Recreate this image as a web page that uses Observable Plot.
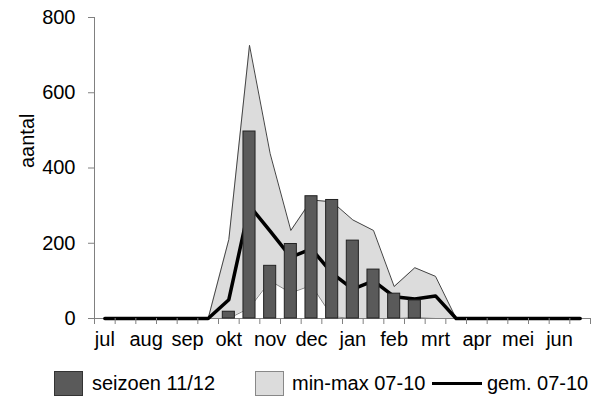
<!DOCTYPE html>
<html><head><meta charset="utf-8">
<script src="https://cdn.jsdelivr.net/npm/d3@7"></script>
<script src="https://cdn.jsdelivr.net/npm/@observablehq/plot@0.6"></script>
<style>
body{margin:0;background:#fff;font-family:"Liberation Sans",Arial,sans-serif;}
#chart{width:592px;height:400px;position:relative;overflow:hidden;}
#chart svg{display:block;}
.legend{position:absolute;left:0;top:360px;height:44px;width:592px;font-size:20px;color:#000;}
.legend .it{position:absolute;top:0;height:46px;display:flex;align-items:center;white-space:nowrap;}
.sw{width:29px;height:25px;box-sizing:border-box;}
</style></head><body><div id="chart"></div>
<script>
const periods = ["jul1","jul2","aug1","aug2","sep1","sep2","okt1","okt2","nov1","nov2","dec1","dec2",
                 "jan1","jan2","feb1","feb2","mrt1","mrt2","apr1","apr2","mei1","mei2","jun1","jun2"];
const monthLabels = ["jul","aug","sep","okt","nov","dec","jan","feb","mrt","apr","mei","jun"];
const season11_12 = [0,0,0,0,0,0,18,497,140,198,325,315,207,130,66,48,0,0,0,0,0,0,0,0];
const min07_10    = [0,0,0,0,0,0,0,28,100,68,88,5,0,0,0,3,0,0,0,0,0,0,0,0];
const max07_10    = [0,0,0,0,0,0,210,726,438,234,315,310,262,234,85,135,112,0,0,0,0,0,0,0];
const mean07_10   = [0,0,0,0,0,0,50,300,232,163,185,120,78,100,58,52,60,0,0,0,0,0,0,0];
const yTicks = [0,200,400,600,800];
const legendLabels = ["seizoen 11/12","min-max 07-10","gem. 07-10"];

const W=592, H=360, ML=94, MR=2, MT=17, MB=42;
const bw = (W-ML-MR)/periods.length;
const data = periods.map((p,i)=>({p, season: season11_12[i], min: min07_10[i], max: max07_10[i], mean: mean07_10[i]}));
const labelOf = new Map(periods.map((p,i)=>[p, i%2===0 ? monthLabels[i/2] : ""]));
const grey = "#808080";

const chart = Plot.plot({
  width: W, height: H, marginLeft: ML, marginRight: MR, marginTop: MT, marginBottom: MB,
  style: {fontFamily: "'Liberation Sans', Arial, sans-serif", fontSize: "20px", background: "white", color: "black"},
  x: {type: "band", domain: periods, padding: 0, round: false, axis: null},
  y: {domain: [0, 800], axis: null},
  marks: [
    Plot.areaY(data, {x: "p", y1: "min", y2: "max", fill: "#dcdcdc"}),
    Plot.lineY(data, {x: "p", y: "max", stroke: "#444", strokeWidth: 1}),
    Plot.lineY(data, {x: "p", y: "min", stroke: "#888", strokeWidth: 1}),
    Plot.ruleY([0], {stroke: grey}),
    Plot.ruleX([periods[0]], {dx: -bw/2, stroke: grey}),
    Plot.lineY(data, {x: "p", y: "mean", stroke: "#000", strokeWidth: 3.5}),
    Plot.barY(data.filter(d=>d.season>0), {x: "p", y: "season", fill: "#5a5a5a", stroke: "#222", strokeWidth: 1, insetLeft: 4.3, insetRight: 4.3}),
    Plot.axisY(yTicks, {tickSize: 6, tickPadding: 13, stroke: grey, fill: "black", fontSize: 20, label: null}),
    Plot.axisX(periods, {tickSize: 6, text: null, dx: -bw/2, stroke: grey, label: null}),
    Plot.axisX([periods[periods.length-1]], {tickSize: 6, text: null, dx: bw/2, stroke: grey, label: null}),
    Plot.axisX(periods.filter((p,i)=>i%2===0), {tickSize: 0, tickPadding: 13, tickFormat: p=>labelOf.get(p), fontSize: 20, fill: "black", label: null}),
    Plot.text(["aantal"], {frameAnchor: "left", dx: -67, rotate: -90, text: d=>d, fontSize: 20, fill: "black"})
  ]
});
const root = document.getElementById("chart");
root.appendChild(chart);
const lg = document.createElement("div");
lg.className = "legend";
lg.innerHTML = `
<div class="it" style="left:54px"><div class="sw" style="background:#5a5a5a;border:1px solid #333"></div></div>
<div class="it" style="left:92px">${legendLabels[0]}</div>
<div class="it" style="left:255px"><div class="sw" style="background:#dcdcdc;border:1px solid #888"></div></div>
<div class="it" style="left:292px">${legendLabels[1]}</div>
<div class="it" style="left:432px"><div style="width:50px;height:3px;background:#000"></div></div>
<div class="it" style="left:487px">${legendLabels[2]}</div>`;
root.appendChild(lg);
</script></body></html>
